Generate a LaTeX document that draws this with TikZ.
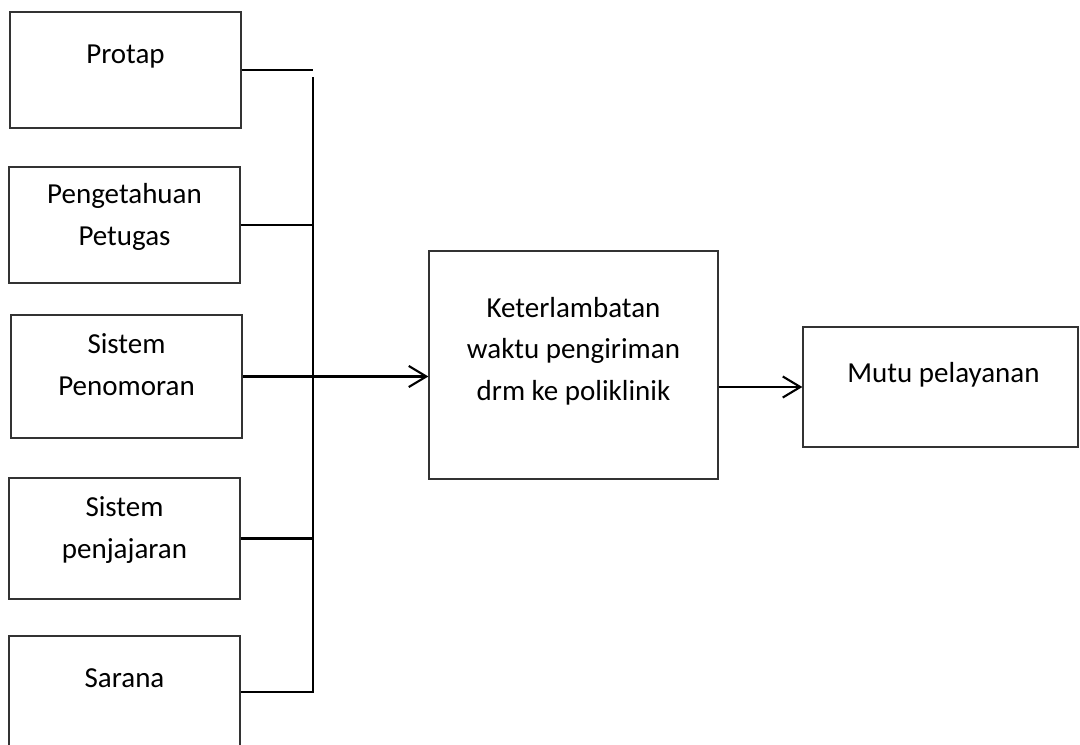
\documentclass[tikz,border=0pt]{standalone}
\usepackage{fontspec}
\setmainfont{Carlito}
\usetikzlibrary{arrows.meta}

\tikzset{
  box/.style={draw=black!80, line width=0.7pt, minimum width=4.62cm, minimum height=2.32cm, inner sep=0pt},
  lbl/.style={anchor=base, align=center, inner sep=0pt, font=\fontsize{16.5}{23.6}\selectfont},
  link/.style={line width=1.2pt},
  arr/.style={line width=1.2pt, -{Straight Barb[length=10pt,width=12pt]}}
}

\begin{document}
\begin{tikzpicture}
        \useasboundingbox (0,0) rectangle (21.6,14.88);

        % Factors on the left
        \node[box] (protap) at (2.51,13.48) {};
        \node[lbl] (protap-t) at (2.51,13.62) {Protap};

        \node[box] (petugas) at (2.49,10.38) {};
        \node[lbl] (petugas-t) at (2.49,9.98) {Pengetahuan\\Petugas};

        \node[box, minimum height=2.46cm] (penomoran) at (2.53,7.35) {};
        \node[lbl] (penomoran-t) at (2.53,6.98) {Sistem\\Penomoran};

        \node[box, minimum height=2.42cm] (penjajaran) at (2.49,4.11) {};
        \node[lbl] (penjajaran-t) at (2.49,3.72) {Sistem\\penjajaran};

        \node[box, minimum height=2.24cm] (sarana) at (2.49,1.04) {};
        \node[lbl] (sarana-t) at (2.49,1.14) {Sarana};

        % Delay and quality
        \node[box, minimum width=5.78cm, minimum height=4.56cm] (lambat) at (11.47,7.58) {};
        \node[lbl] (lambat-t) at (11.47,6.88) {Keterlambatan\\waktu pengiriman\\drm ke poliklinik};

        \node[box, minimum width=5.5cm, minimum height=2.4cm] (mutu) at (18.81,7.14) {};
        \node[lbl] (mutu-t) at (18.87,7.24) {Mutu pelayanan};

        % Collecting line
        \coordinate (bustop) at (6.26,13.34);
        \draw[link] (protap.east) -- (protap.east -| bustop);
        \draw[link] (bustop) -- (sarana.east -| bustop) -- (sarana.east);
        \draw[link] (petugas.east) -- (petugas.east -| bustop);
        \draw[link] (penjajaran.east) -- (penjajaran.east -| bustop);

        % Arrows
        \draw[arr] (penomoran.east) -- (penomoran.east -| lambat.west);
        \draw[arr] (lambat.east |- mutu.west) -- (mutu.west);
\end{tikzpicture}
\end{document}
